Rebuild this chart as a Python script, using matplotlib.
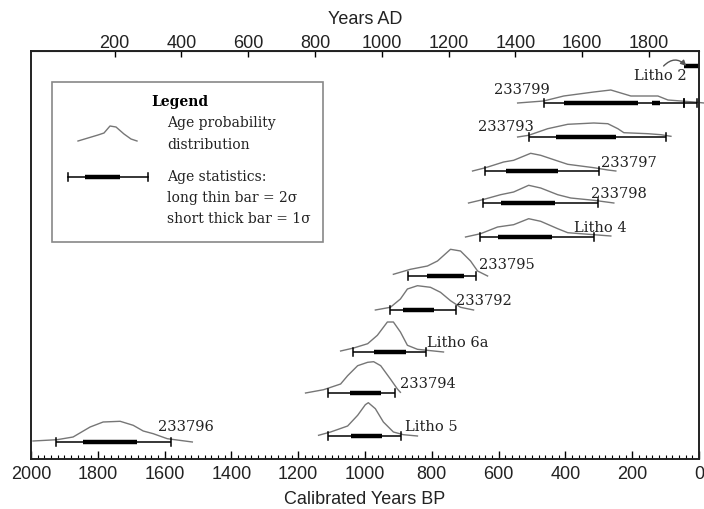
import matplotlib
matplotlib.use("Agg")
import matplotlib.pyplot as plt
from matplotlib.patches import Rectangle
from matplotlib.ticker import MultipleLocator

# sample names, top to bottom
samples = ["233799", "233793", "233797", "233798", "Litho 4", "233795",
           "233792", "Litho 6a", "233794", "Litho 5", "233796"]

# probability curves: calibrated years BP and relative height
curve_bp = {
    "233799": [543, 465, 405, 315, 264, 204, 123, 93, 15, -15],
    "233793": [543, 510, 453, 393, 315, 273, 243, 225, 153, 114, 84],
    "233797": [678, 639, 585, 555, 504, 474, 423, 393, 315, 273, 249],
    "233798": [690, 648, 594, 555, 510, 474, 423, 384, 315, 255],
    "Litho 4": [699, 654, 603, 555, 510, 474, 423, 393, 315, 264],
    "233795": [915, 864, 813, 783, 744, 714, 684, 663, 633],
    "233792": [969, 924, 894, 873, 843, 804, 774, 744, 714, 675],
    "Litho 6a": [1073, 1034, 992, 963, 933, 915, 894, 873, 843, 765],
    "233794": [1178, 1124, 1073, 1052, 1022, 992, 974, 953, 924, 903, 894],
    "Litho 5": [1139, 1103, 1052, 1022, 999, 990, 969, 945, 915, 885, 843],
    "233796": [1994, 1922, 1874, 1823, 1784, 1733, 1694, 1664, 1634, 1592, 1517],
}
curve_p = {
    "233799": [0, 2, 7, 11, 13, 7, 7, 3, 1, 0],
    "233793": [0, 1.7, 8.3, 12.7, 14, 13.3, 8.3, 4.3, 3.3, 2.3, 0.7],
    "233797": [0, 3.3, 9, 10.7, 17.7, 15.7, 10, 6.7, 3.3, 1, 0],
    "233798": [0, 3.3, 8.3, 11, 17.7, 15, 8.3, 5, 2.7, 0],
    "Litho 4": [0, 3.3, 10, 12.3, 18.3, 15.7, 8.3, 4.3, 2.3, 1],
    "233795": [1.7, 6.7, 10, 15, 26.7, 25, 15, 5, 0],
    "233792": [0, 2.7, 11, 21, 24.3, 22.7, 17.7, 9.3, 2.7, 0],
    "Litho 6a": [1, 4, 8.3, 16.7, 30, 30, 20, 6.7, 2.7, 0],
    "233794": [0, 3.3, 9, 17.3, 27.3, 30.7, 31.3, 27.3, 14, 4, 0.7],
    "Litho 5": [0.7, 4, 10, 20.7, 31.3, 33.3, 27.3, 14, 4, 1.3, 0],
    "233796": [1, 2.3, 5, 15, 20, 20.7, 16.7, 11, 8.3, 3.3, 0],
}

# age statistics (years BP): 2 sigma ranges and 1 sigma ranges
sigma2 = {
    "233799": [(465, 45), (45, 6)],
    "233793": [(510, 99)],
    "233797": [(642, 300)],
    "233798": [(648, 303)],
    "Litho 4": [(657, 315)],
    "233795": [(870, 669)],
    "233792": [(924, 729)],
    "Litho 6a": [(1037, 816)],
    "233794": [(1112, 909)],
    "Litho 5": [(1112, 891)],
    "233796": [(1925, 1580)],
}
sigma1 = {
    "233799": [(405, 183), (141, 117)],
    "233793": [(429, 249)],
    "233797": [(579, 423)],
    "233798": [(594, 432)],
    "Litho 4": [(603, 441)],
    "233795": [(813, 705)],
    "233792": [(885, 792)],
    "Litho 6a": [(974, 876)],
    "233794": [(1046, 953)],
    "Litho 5": [(1043, 948)],
    "233796": [(1844, 1682)],
}
litho2_bar = (45, 0)

# layout: row baseline, label left edge (BP) and label offset
row_y = [356, 322, 288, 256, 222, 183, 149, 107, 66, 23, 17]
label_x = [615, 663, 294, 324, 375, 660, 729, 813, 894, 879, 1619]
label_dy = [14, 11, 9, 10, 10, 12, 10, 10, 10, 10, 16]
litho2_y = 393

serif = "DejaVu Serif"
sans = "Liberation Sans"
curve_col = "#767676"

fig = plt.figure(figsize=(7.04, 5.10), dpi=100)
ax = fig.add_axes([31 / 704, 50 / 510, 668 / 704, 408 / 510])
ax.set_xlim(2000, 0)
ax.set_ylim(0, 408)
ax.set_yticks([])
for s in ax.spines.values():
    s.set_linewidth(1.4)
    s.set_color("#222222")

for name, y, lx, dy in zip(samples, row_y, label_x, label_dy):
    ax.plot(curve_bp[name], [y + p for p in curve_p[name]], color=curve_col,
            lw=1.0, clip_on=False)
    for a, b in sigma2[name]:
        ax.plot([a, b], [y, y], color="black", lw=1.1, solid_capstyle="butt")
        ax.plot([a, a], [y - 4, y + 4], color="black", lw=1.1)
        ax.plot([b, b], [y - 4, y + 4], color="black", lw=1.1)
    for a, b in sigma1[name]:
        ax.plot([a, b], [y, y], color="black", lw=3.2, solid_capstyle="butt")
    ax.text(lx, y + dy, name, family=serif, fontsize=10.5, ha="left",
            va="center", color="#222222")

# Litho 2 (beyond the axis end)
ax.plot(litho2_bar, [litho2_y, litho2_y], color="black", lw=3.2,
        solid_capstyle="butt")
ax.text(195, litho2_y - 9, "Litho 2", family=serif, fontsize=10.5,
        ha="left", va="center", color="#222222")
ax.annotate("", xy=(38, litho2_y), xytext=(106, litho2_y),
            arrowprops=dict(arrowstyle="-|>", color="#555555", lw=1.0,
                            connectionstyle="arc3,rad=-0.5",
                            mutation_scale=8, shrinkA=0, shrinkB=0))

# bottom axis
ax.xaxis.set_major_locator(MultipleLocator(200))
ax.xaxis.set_minor_locator(MultipleLocator(20))
ax.tick_params(axis="x", which="major", direction="in", length=6, width=1.0,
               labelsize=13, pad=4, labelcolor="#222222")
ax.tick_params(axis="x", which="minor", direction="in", length=3, width=0.8)
for t in ax.get_xticklabels():
    t.set_family(sans)
ax.set_xlabel("Calibrated Years BP", family=sans, fontsize=13, labelpad=6,
              color="#222222")

# top axis in years AD
top = ax.secondary_xaxis("top", functions=(lambda bp: 1950 - bp,
                                           lambda ad: 1950 - ad))
top.set_xticks([200, 400, 600, 800, 1000, 1200, 1400, 1600, 1800])
top.tick_params(direction="in", length=4, width=1.0, labelsize=13, pad=0,
                labelcolor="#222222")
for t in top.get_xticklabels():
    t.set_family(sans)
top.set_xlabel("Years AD", family=sans, fontsize=13, labelpad=8,
               color="#222222")


# legend box drawn in axes fraction
def fx(px):
    return (px - 31) / 668


def fy(py):
    return (460 - py) / 408


tr = ax.transAxes
ax.add_patch(Rectangle((fx(52), fy(243)), fx(323) - fx(52), fy(83) - fy(243),
                       transform=tr, fill=False, edgecolor="#888888", lw=1.2))
ax.text(fx(180), fy(102), "Legend", transform=tr, family=serif,
        fontsize=10, fontweight="bold", ha="center", va="center")
lx_pts = [78, 88, 98, 104, 110, 116, 124, 131, 137]
ly_pts = [142, 139, 136, 134, 127, 128, 135, 140, 142]
ax.plot([fx(v) for v in lx_pts], [fy(v) for v in ly_pts], transform=tr,
        color=curve_col, lw=1.0)
ax.plot([fx(68), fx(148)], [fy(178), fy(178)], transform=tr, color="black",
        lw=1.1)
for v in (68, 148):
    ax.plot([fx(v), fx(v)], [fy(174), fy(182)], transform=tr, color="black",
            lw=1.1)
ax.plot([fx(85), fx(120)], [fy(178), fy(178)], transform=tr, color="black",
        lw=3.2, solid_capstyle="butt")
for txt, py in [("Age probability", 123), ("distribution", 145),
                ("Age statistics:", 177), ("long thin bar = 2\u03c3", 198),
                ("short thick bar = 1\u03c3", 219)]:
    ax.text(fx(167), fy(py), txt, transform=tr, family=serif, fontsize=10,
            ha="left", va="center", color="#222222")

fig.savefig("out.png", dpi=100)
